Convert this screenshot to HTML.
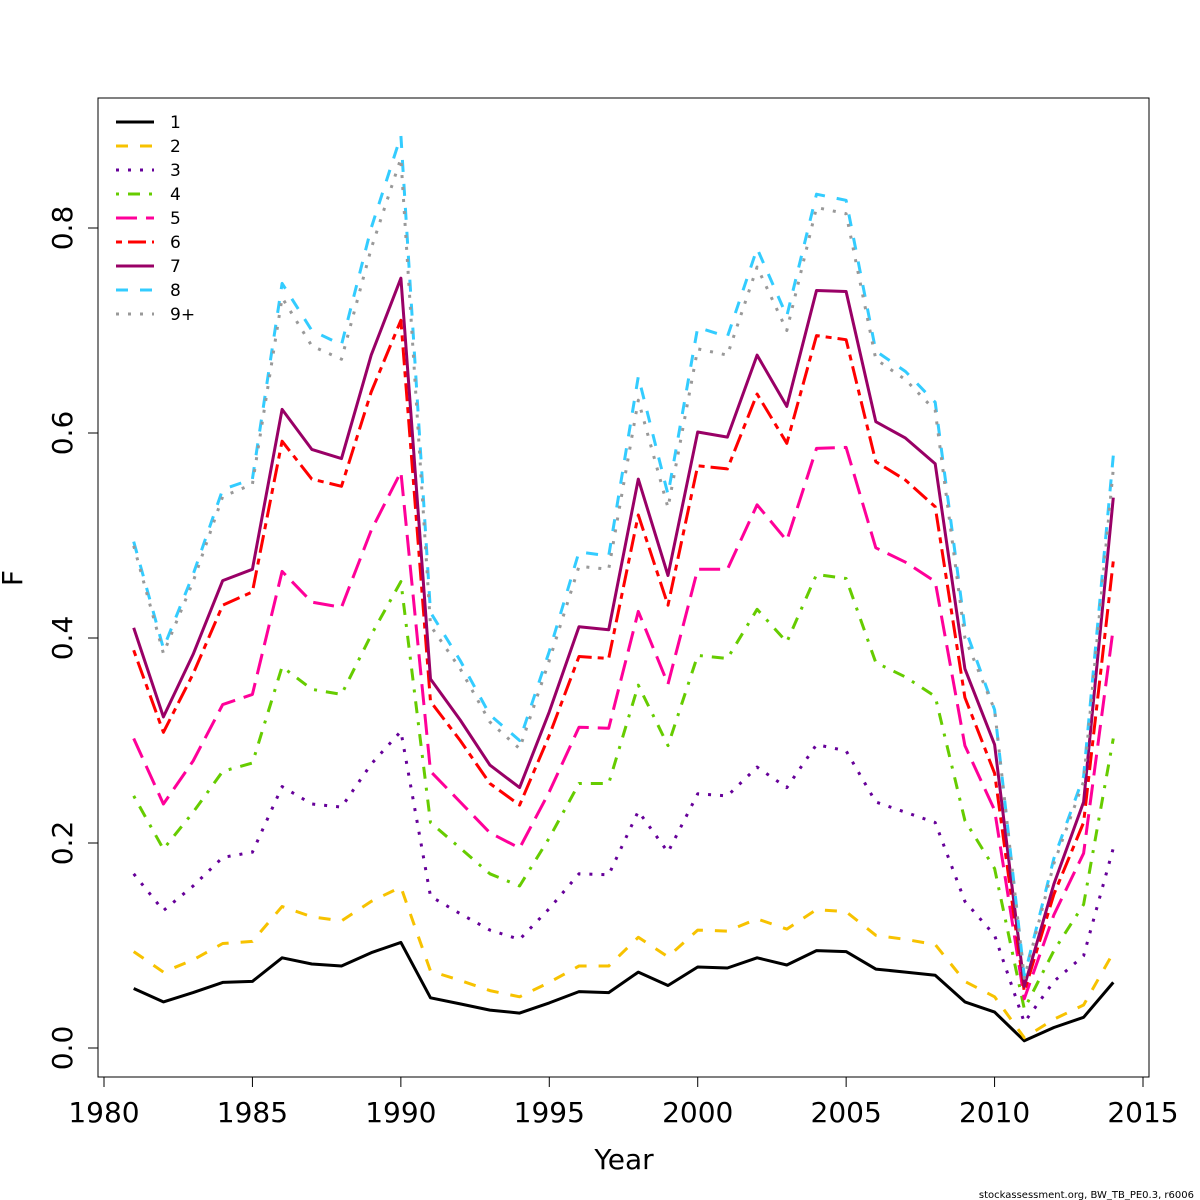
<!DOCTYPE html>
<html><head><meta charset="utf-8"><style>
html,body{margin:0;padding:0;background:#fff}
svg{display:block;font-family:"DejaVu Sans","Liberation Sans",sans-serif}
</style></head><body>
<svg id="chart" width="1200" height="1200" viewBox="0 0 1200 1200" xmlns="http://www.w3.org/2000/svg">
<rect x="0" y="0" width="1200" height="1200" fill="#fff"/>
<rect x="98" y="98" width="1051" height="979" fill="none" stroke="#000" stroke-width="1"/>
<g id="xaxis"></g>
<g id="yaxis"></g>
<g id="series"></g>
<g id="legend"></g>
<text x="624" y="1169" font-size="28" text-anchor="middle">Year</text>
<text x="22" y="578" font-size="28" text-anchor="middle" transform="rotate(-90 22 578)">F</text>
<text x="1194" y="1198" font-size="10" text-anchor="end">stockassessment.org, BW_TB_PE0.3, r6006</text>
</svg>
<script>
const years = [1981,1982,1983,1984,1985,1986,1987,1988,1989,1990,1991,1992,1993,1994,1995,1996,1997,1998,1999,2000,2001,2002,2003,2004,2005,2006,2007,2008,2009,2010,2011,2012,2013,2014];
const xTicks = [1980,1985,1990,1995,2000,2005,2010,2015];
const yTicks = [0,0.2,0.4,0.6,0.8];
const yTickLabels = ["0.0","0.2","0.4","0.6","0.8"];
const seriesNames = ["1","2","3","4","5","6","7","8","9+"];
const age1 = [.058,.045,.054,.064,.065,.088,.082,.080,.093,.103,.049,.043,.037,.034,.044,.055,.054,.074,.061,.079,.078,.088,.081,.095,.094,.077,.074,.071,.045,.035,.007,.020,.030,.064];
const age2 = [.094,.074,.086,.102,.104,.138,.128,.124,.143,.157,.075,.066,.056,.050,.064,.080,.080,.108,.089,.115,.114,.126,.116,.135,.133,.110,.106,.101,.065,.050,.010,.028,.042,.093];
const age3 = [.170,.134,.158,.186,.191,.255,.238,.235,.277,.309,.148,.131,.115,.106,.136,.170,.169,.231,.191,.248,.246,.274,.254,.296,.290,.240,.230,.220,.143,.110,.025,.065,.090,.195];
const age4 = [.246,.194,.230,.270,.278,.372,.350,.345,.403,.455,.220,.195,.170,.158,.205,.258,.258,.354,.295,.383,.380,.428,.396,.462,.458,.376,.362,.343,.222,.175,.038,.095,.140,.302];
const age5 = [.302,.238,.280,.335,.345,.465,.435,.430,.505,.562,.270,.240,.210,.195,.250,.313,.312,.426,.355,.467,.467,.530,.495,.585,.586,.488,.474,.455,.295,.232,.048,.130,.190,.410];
const age6 = [.388,.308,.365,.432,.445,.592,.555,.548,.640,.710,.338,.300,.258,.237,.305,.382,.380,.520,.432,.568,.565,.638,.590,.695,.691,.572,.554,.528,.342,.268,.055,.150,.220,.475];
const age7 = [.410,.323,.384,.456,.467,.623,.584,.575,.676,.751,.360,.320,.276,.254,.328,.411,.408,.555,.461,.601,.596,.676,.626,.739,.738,.611,.595,.570,.370,.296,.060,.160,.240,.537];
const age8 = [.494,.390,.462,.545,.555,.746,.700,.686,.800,.890,.425,.378,.325,.300,.387,.484,.480,.655,.540,.703,.694,.780,.714,.833,.827,.680,.660,.630,.410,.330,.070,.185,.265,.578];
const age9 = [.490,.385,.455,.538,.550,.732,.685,.672,.780,.868,.412,.370,.318,.292,.378,.470,.467,.632,.527,.682,.676,.762,.700,.820,.814,.672,.652,.622,.400,.330,.068,.180,.260,.565];
const allSeries = [age1,age2,age3,age4,age5,age6,age7,age8,age9];
const colors = ["#000000","#f7c200","#660099","#66cc00","#ff0099","#ff0000","#990066","#33ccff","#999999"];
const dashes = ["","12 12","3 9","3 9 12 9","21 9","6 6 18 6","","12 12","3 9"];

const NS="http://www.w3.org/2000/svg";
function X(v){return 104+(v-1980)*(1039/35);}
function Y(v){return 1048-v*1025;}
function mk(tag,attrs,parent){const e=document.createElementNS(NS,tag);for(const k in attrs)e.setAttribute(k,attrs[k]);parent.appendChild(e);return e;}

const xa=document.getElementById('xaxis');
let l=mk('line',{x1:X(1980),x2:X(2015),y1:1077,y2:1077,stroke:'#000','stroke-width':1},xa);


xTicks.forEach(t=>{
  let tk=mk('line',{x1:X(t),x2:X(t),y1:1077,y2:1087,stroke:'#000','stroke-width':1},xa);
  
  
  let tx=mk('text',{x:X(t),y:1122,'font-size':28,'text-anchor':'middle'},xa);
  tx.textContent=t;
  
  
});
const ya=document.getElementById('yaxis');
l=mk('line',{x1:98,x2:98,y1:Y(0),y2:Y(0.8),stroke:'#000','stroke-width':1},ya);


yTicks.forEach((t,i)=>{
  let tk=mk('line',{x1:88,x2:98,y1:Y(t),y2:Y(t),stroke:'#000','stroke-width':1},ya);
  
  
  let tx=mk('text',{x:72,y:Y(t),'font-size':28,'text-anchor':'middle',transform:`rotate(-90 72 ${Y(t)})`},ya);
  tx.textContent=yTickLabels[i];
  
  
});
const sg=document.getElementById('series');
allSeries.forEach((s,i)=>{
  const pts=s.map((v,j)=>X(years[j]).toFixed(1)+','+Y(v).toFixed(1)).join(' ');
  const p=mk('polyline',{points:pts,fill:'none',stroke:colors[i],'stroke-width':3,'stroke-dasharray':dashes[i]||'none','stroke-linejoin':'round'},sg);
  
  
});
const lg=document.getElementById('legend');
seriesNames.forEach((n,i)=>{
  const y=122+i*24;
  const ln=mk('line',{x1:116,x2:154,y1:y,y2:y,stroke:colors[i],'stroke-width':3,'stroke-dasharray':dashes[i]||'none'},lg);
  
  
  const t=mk('text',{x:170,y:y+6,'font-size':17},lg);
  t.textContent=n;
  
  
});
</script>
</body></html>
